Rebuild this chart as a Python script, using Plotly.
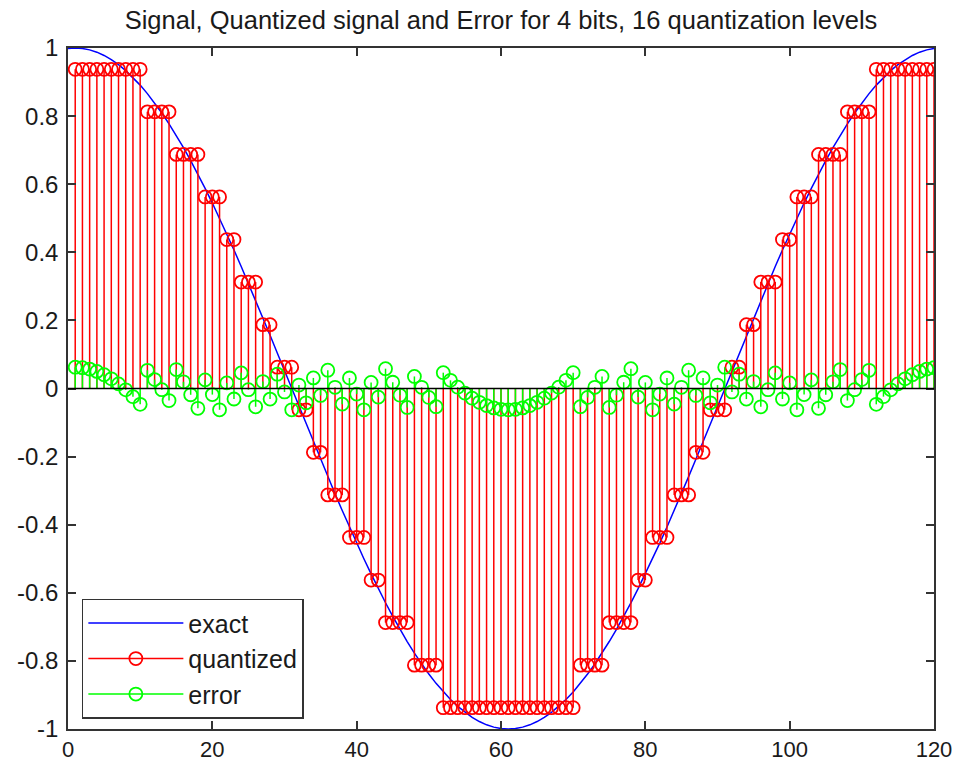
import plotly.graph_objects as go

# sample index n = 1..120 (stems)
n = list(range(1, 121))

# exact signal, drawn from x = 0 to 120
exact_x = list(range(0, 121))
exact = [
    0.9986,
    1.0000, 0.9986, 0.9945, 0.9877, 0.9781, 0.9659, 0.9511, 0.9336, 0.9135, 0.8910,
    0.8660, 0.8387, 0.8090, 0.7771, 0.7431, 0.7071, 0.6691, 0.6293, 0.5878, 0.5446,
    0.5000, 0.4540, 0.4067, 0.3584, 0.3090, 0.2588, 0.2079, 0.1564, 0.1045, 0.0523,
    0.0000, -0.0523, -0.1045, -0.1564, -0.2079, -0.2588, -0.3090, -0.3584, -0.4067, -0.4540,
    -0.5000, -0.5446, -0.5878, -0.6293, -0.6691, -0.7071, -0.7431, -0.7771, -0.8090, -0.8387,
    -0.8660, -0.8910, -0.9135, -0.9336, -0.9511, -0.9659, -0.9781, -0.9877, -0.9945, -0.9986,
    -1.0000, -0.9986, -0.9945, -0.9877, -0.9781, -0.9659, -0.9511, -0.9336, -0.9135, -0.8910,
    -0.8660, -0.8387, -0.8090, -0.7771, -0.7431, -0.7071, -0.6691, -0.6293, -0.5878, -0.5446,
    -0.5000, -0.4540, -0.4067, -0.3584, -0.3090, -0.2588, -0.2079, -0.1564, -0.1045, -0.0523,
    0.0000, 0.0523, 0.1045, 0.1564, 0.2079, 0.2588, 0.3090, 0.3584, 0.4067, 0.4540,
    0.5000, 0.5446, 0.5878, 0.6293, 0.6691, 0.7071, 0.7431, 0.7771, 0.8090, 0.8387,
    0.8660, 0.8910, 0.9135, 0.9336, 0.9511, 0.9659, 0.9781, 0.9877, 0.9945, 0.9986,
]

quantized = [
    0.9375, 0.9375, 0.9375, 0.9375, 0.9375, 0.9375, 0.9375, 0.9375, 0.9375, 0.9375,
    0.8125, 0.8125, 0.8125, 0.8125, 0.6875, 0.6875, 0.6875, 0.6875, 0.5625, 0.5625,
    0.5625, 0.4375, 0.4375, 0.3125, 0.3125, 0.3125, 0.1875, 0.1875, 0.0625, 0.0625,
    0.0625, -0.0625, -0.0625, -0.1875, -0.1875, -0.3125, -0.3125, -0.3125, -0.4375, -0.4375,
    -0.4375, -0.5625, -0.5625, -0.6875, -0.6875, -0.6875, -0.6875, -0.8125, -0.8125, -0.8125,
    -0.8125, -0.9375, -0.9375, -0.9375, -0.9375, -0.9375, -0.9375, -0.9375, -0.9375, -0.9375,
    -0.9375, -0.9375, -0.9375, -0.9375, -0.9375, -0.9375, -0.9375, -0.9375, -0.9375, -0.9375,
    -0.8125, -0.8125, -0.8125, -0.8125, -0.6875, -0.6875, -0.6875, -0.6875, -0.5625, -0.5625,
    -0.4375, -0.4375, -0.4375, -0.3125, -0.3125, -0.3125, -0.1875, -0.1875, -0.0625, -0.0625,
    -0.0625, 0.0625, 0.0625, 0.1875, 0.1875, 0.3125, 0.3125, 0.3125, 0.4375, 0.4375,
    0.5625, 0.5625, 0.5625, 0.6875, 0.6875, 0.6875, 0.6875, 0.8125, 0.8125, 0.8125,
    0.8125, 0.9375, 0.9375, 0.9375, 0.9375, 0.9375, 0.9375, 0.9375, 0.9375, 0.9375,
]

error = [
    0.0625, 0.0611, 0.0570, 0.0502, 0.0406, 0.0284, 0.0136, -0.0039, -0.0240, -0.0465,
    0.0535, 0.0262, -0.0035, -0.0354, 0.0556, 0.0196, -0.0184, -0.0582, 0.0253, -0.0179,
    -0.0625, 0.0165, -0.0308, 0.0459, -0.0035, -0.0537, 0.0204, -0.0311, 0.0420, -0.0102,
    -0.0625, 0.0102, -0.0420, 0.0311, -0.0204, 0.0537, 0.0035, -0.0459, 0.0308, -0.0165,
    -0.0625, 0.0179, -0.0253, 0.0582, 0.0184, -0.0196, -0.0556, 0.0354, 0.0035, -0.0262,
    -0.0535, 0.0465, 0.0240, 0.0039, -0.0136, -0.0284, -0.0406, -0.0502, -0.0570, -0.0611,
    -0.0625, -0.0611, -0.0570, -0.0502, -0.0406, -0.0284, -0.0136, 0.0039, 0.0240, 0.0465,
    -0.0535, -0.0262, 0.0035, 0.0354, -0.0556, -0.0196, 0.0184, 0.0582, -0.0253, 0.0179,
    -0.0625, -0.0165, 0.0308, -0.0459, 0.0035, 0.0537, -0.0204, 0.0311, -0.0420, 0.0102,
    0.0625, -0.0102, 0.0420, -0.0311, 0.0204, -0.0537, -0.0035, 0.0459, -0.0308, 0.0165,
    -0.0625, -0.0179, 0.0253, -0.0582, -0.0184, 0.0196, 0.0556, -0.0354, -0.0035, 0.0262,
    0.0535, -0.0465, -0.0240, -0.0039, 0.0136, 0.0284, 0.0406, 0.0502, 0.0570, 0.0611,
]

x_tick_vals = [0, 20, 40, 60, 80, 100, 120]
y_tick_vals = [-1, -0.8, -0.6, -0.4, -0.2, 0, 0.2, 0.4, 0.6, 0.8, 1]
y_tick_text = ["-1", "-0.8", "-0.6", "-0.4", "-0.2", "0", "0.2", "0.4", "0.6", "0.8", "1"]

title_text = "Signal, Quantized signal and Error for 4 bits, 16 quantization levels"

FONT = "Liberation Sans, Arial, sans-serif"
MARKER_SIZE = 13


def stem_arrays(xs, ys, color):
    # tip point first, then baseline point, then a gap
    sx, sy, sc = [], [], []
    for xv, yv in zip(xs, ys):
        sx += [xv, xv, None]
        sy += [yv, 0, None]
        sc += [color, "rgba(0,0,0,0)", "rgba(0,0,0,0)"]
    return sx, sy, sc


fig = go.Figure()

fig.add_trace(go.Scatter(
    x=exact_x, y=exact, mode="lines", name="exact",
    line=dict(color="#0000FF", width=1.5),
))

qx, qy, qc = stem_arrays(n, quantized, "#FF0000")
fig.add_trace(go.Scatter(
    x=qx, y=qy, mode="lines+markers", name="quantized",
    line=dict(color="#FF0000", width=1.5),
    marker=dict(symbol="circle-open", size=MARKER_SIZE, color=qc, line=dict(width=1.8)),
    connectgaps=False,
))

ex, ey, ec = stem_arrays(n, error, "#00FF00")
fig.add_trace(go.Scatter(
    x=ex, y=ey, mode="lines+markers", name="error",
    line=dict(color="#00FF00", width=1.5),
    marker=dict(symbol="circle-open", size=MARKER_SIZE, color=ec, line=dict(width=1.8)),
    connectgaps=False,
))

# stem baseline
fig.add_shape(type="line", xref="paper", x0=0, x1=1, yref="y", y0=0, y1=0,
              line=dict(color="#000000", width=1.5), layer="above")

axis_common = dict(
    showgrid=False, zeroline=False, showline=True, linecolor="#333333", linewidth=1.5,
    mirror="ticks", ticks="inside", ticklen=8, tickwidth=1.5, tickcolor="#333333",
    automargin=False,
)

fig.update_xaxes(range=[0, 120], tickvals=x_tick_vals, ticklabelstandoff=0,
                 tickfont=dict(family=FONT, size=22, color="#1a1a1a"), **axis_common)
fig.update_yaxes(range=[-1, 1], tickvals=y_tick_vals, ticktext=y_tick_text,
                 ticklabelstandoff=3,
                 tickfont=dict(family=FONT, size=24, color="#1a1a1a"), **axis_common)

fig.update_layout(
    width=966, height=762,
    margin=dict(l=68, r=32, t=48, b=33),
    paper_bgcolor="white", plot_bgcolor="white",
    title=dict(text=title_text, x=0.5, xref="paper", xanchor="center",
               y=0.973, yref="container", yanchor="middle",
               font=dict(family=FONT, size=25.5, color="#1a1a1a")),
    legend=dict(
        x=0.016, y=0.015, xanchor="left", yanchor="bottom",
        bgcolor="white", bordercolor="#333333", borderwidth=1.5,
        font=dict(family=FONT, size=25, color="#1a1a1a"),
        itemwidth=95,
    ),
    showlegend=True,
)

fig.write_html("out.html",
               config={"displayModeBar": False},
               post_script="document.body.style.margin='0';document.body.style.overflow='hidden';")
